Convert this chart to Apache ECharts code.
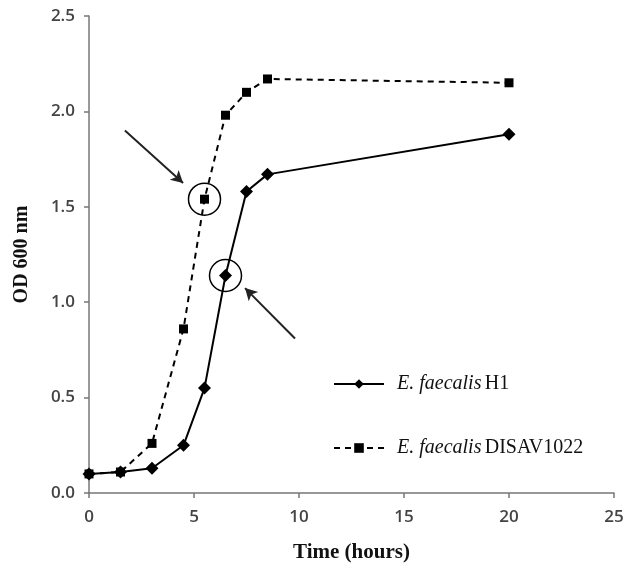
<!DOCTYPE html>
<html><head><meta charset="utf-8">
<script src="https://cdn.jsdelivr.net/npm/echarts@6/dist/echarts.min.js"></script>
<style>html,body{margin:0;padding:0;background:#fff}#c{width:627px;height:565px}</style>
</head><body><div id="c"></div>
<script>
var timeH1 = [0, 1.5, 3, 4.5, 5.5, 6.5, 7.5, 8.5, 20];
var odH1 = [0.10, 0.11, 0.13, 0.25, 0.55, 1.14, 1.58, 1.67, 1.88];
var timeDISAV = [0, 1.5, 3, 4.5, 5.5, 6.5, 7.5, 8.5, 20];
var odDISAV = [0.10, 0.11, 0.26, 0.86, 1.54, 1.98, 2.10, 2.17, 2.15];
var seriesNames = ['E. faecalis H1', 'E. faecalis DISAV1022'];
var xTicks = [0, 5, 10, 15, 20, 25];
var yTicks = [0.0, 0.5, 1.0, 1.5, 2.0, 2.5];
// annotations (data coordinates)
var circled = [[5.5, 1.54], [6.5, 1.14]];
var arrows = [[[1.71, 1.90], [4.48, 1.625]], [[9.81, 0.81], [7.43, 1.074]]];

function pairs(xs, ys){ return xs.map(function(x,i){return [x, ys[i]];}); }

var chart = echarts.init(document.getElementById('c'));
var labelFont = {color:'#444', fontFamily:'Open Sans', fontWeight:600, fontSize:17};
chart.setOption({
  animation:false,
  grid:{left:89, top:16, right:13, bottom:72, outerBoundsMode:'none', containLabel:false},
  xAxis:{type:'value', min:xTicks[0], max:xTicks[xTicks.length-1], interval:5,
    name:'Time (hours)', nameLocation:'middle', nameGap:49,
    nameTextStyle:{fontFamily:'Liberation Serif', fontWeight:'bold', fontSize:21, color:'#111'},
    axisLine:{lineStyle:{color:'#777', width:1.5}},
    axisTick:{show:true, length:5, lineStyle:{color:'#777', width:1.5}},
    axisLabel:Object.assign({margin:16}, labelFont),
    splitLine:{show:false}},
  yAxis:{type:'value', min:yTicks[0], max:yTicks[yTicks.length-1], interval:0.5,
    name:'OD 600 nm', nameLocation:'middle', nameGap:57,
    nameTextStyle:{fontFamily:'Liberation Serif', fontWeight:'bold', fontSize:20, color:'#111'},
    axisLine:{show:true, lineStyle:{color:'#777', width:1.5}},
    axisTick:{show:true, length:5, lineStyle:{color:'#777', width:1.5}},
    axisLabel:Object.assign({margin:14, formatter:function(v){return v.toFixed(1);}}, labelFont),
    splitLine:{show:false}},
  legend:{orient:'vertical', left:328, top:369, itemWidth:50, itemHeight:12, itemGap:44,
    data:seriesNames,
    formatter:function(n){ var p = n.split(' '); return '{i|' + p[0] + ' ' + p[1] + '} {n|' + p[2] + '}'; },
    textStyle:{padding:[0,0,0,8], rich:{
      i:{fontFamily:'Liberation Serif', fontStyle:'italic', fontSize:20, lineHeight:20, color:'#111'},
      n:{fontFamily:'Liberation Serif', fontSize:20, lineHeight:20, color:'#111'}}}},
  series:[
    {name:seriesNames[0], type:'line', data:pairs(timeH1, odH1), symbol:'diamond', symbolSize:13,
      itemStyle:{color:'#000'}, lineStyle:{color:'#000', width:2},
      markPoint:{symbol:'circle', symbolSize:32, label:{show:false}, silent:true,
        itemStyle:{color:'rgba(0,0,0,0)', borderColor:'#000', borderWidth:1.5},
        data:circled.map(function(c){return {coord:c};})},
      markLine:{symbol:['none','arrow'], symbolSize:[10,12], silent:true, label:{show:false},
        lineStyle:{color:'#222', width:2, type:'solid'},
        data:arrows.map(function(a){return [{coord:a[0]},{coord:a[1]}];})}
    },
    {name:seriesNames[1], type:'line', data:pairs(timeDISAV, odDISAV), symbol:'rect', symbolSize:9,
      itemStyle:{color:'#000'}, lineStyle:{color:'#000', width:2, type:[6,5]}, z:1}
  ]
});
</script></body></html>
